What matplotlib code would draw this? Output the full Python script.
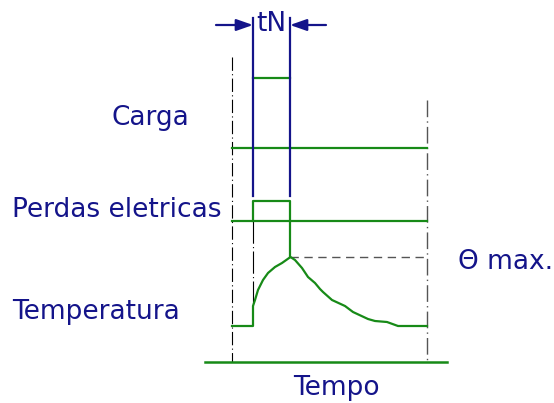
import numpy as np
import matplotlib.pyplot as plt

# time marks (drawing units, left to right)
t0, t_on, t_off, t_end = 232, 253, 290, 427

# load / losses traces (top level and baseline of each)
carga_top, carga_base = 78, 148
perdas_top, perdas_base = 201, 221
theta_max = 257

# temperature trace
temp_t = [232, 253, 253, 255, 258, 263, 268, 275, 282, 290.5, 295, 302, 308, 315,
          320, 323, 332, 345, 353, 368, 375, 387, 398, 427]
temp_y = [326, 326, 306, 300, 290, 280, 273, 267, 263, 257, 260, 268, 277, 283,
          289, 292, 300, 306, 312, 319, 321, 322, 326, 326]

labels = ["Carga", "Perdas eletricas", "Temperatura"]
label_y = [118, 210, 312]

blue = "#14148a"
green = "#178a17"
fam = ['Liberation Sans Narrow', 'DejaVu Sans']

fig = plt.figure(figsize=(5.54, 4.03), dpi=100)
ax = fig.add_axes([0, 0, 1, 1])
ax.set_xlim(0, 554)
ax.set_ylim(403, 0)
ax.axis("off")

# guide lines
ax.plot([t0, t0], [57, 362], color="black", lw=0.8, ls=(0, (12, 3, 1, 3)))
ax.plot([t_end, t_end], [100, 362], color="#555555", lw=1.0, ls=(0, (12, 3, 1, 3)))
ax.plot([t_on, t_on], [221, 306], color="black", lw=0.8, ls=(0, (20, 3, 1, 3)))
ax.plot([t_off, t_end], [theta_max, theta_max], color="#555555", lw=1.0, ls=(0, (6, 4)))

# carga
ax.plot([t0, t_end], [carga_base, carga_base], color=green, lw=1.6)
ax.plot([t_on, t_off], [carga_top, carga_top], color=green, lw=1.6)

# perdas
ax.plot([t0, t_end], [perdas_base, perdas_base], color=green, lw=1.6)
ax.plot([t_on, t_on, t_off, t_off], [perdas_base, perdas_top, perdas_top, theta_max],
        color=green, lw=1.6)

# temperature
ax.plot(temp_t, temp_y, color=green, lw=1.6)

# time axis
ax.plot([205, 447], [362, 362], color=green, lw=1.8)

# tN markers
for x in [t_on, t_off]:
    ax.plot([x, x], [18, 196], color=blue, lw=1.6)
ax.annotate("", xy=(t_on, 25), xytext=(216, 25),
            arrowprops=dict(arrowstyle="-|>,head_length=1.0,head_width=0.35", color=blue, lw=1.6,
                            shrinkA=0, shrinkB=0))
ax.annotate("", xy=(t_off, 25), xytext=(326, 25),
            arrowprops=dict(arrowstyle="-|>,head_length=1.0,head_width=0.35", color=blue, lw=1.6,
                            shrinkA=0, shrinkB=0))
ax.text((t_on + t_off) / 2, 24, "tN", color=blue, fontsize=19, family=fam, ha="center", va="center")

# labels
ax.text(150, label_y[0], labels[0], color=blue, fontsize=19, family=fam, ha="center", va="center")
ax.text(12, label_y[1], labels[1], color=blue, fontsize=19, family=fam, ha="left", va="center")
ax.text(12, label_y[2], labels[2], color=blue, fontsize=19, family=fam, ha="left", va="center")
ax.text(458, 262, "Θ max.", color=blue, fontsize=19, family=fam, ha="left", va="center")
ax.text(336, 388, "Tempo", color=blue, fontsize=19, family=fam, ha="center", va="center")

fig.savefig("out.png", dpi=100)
